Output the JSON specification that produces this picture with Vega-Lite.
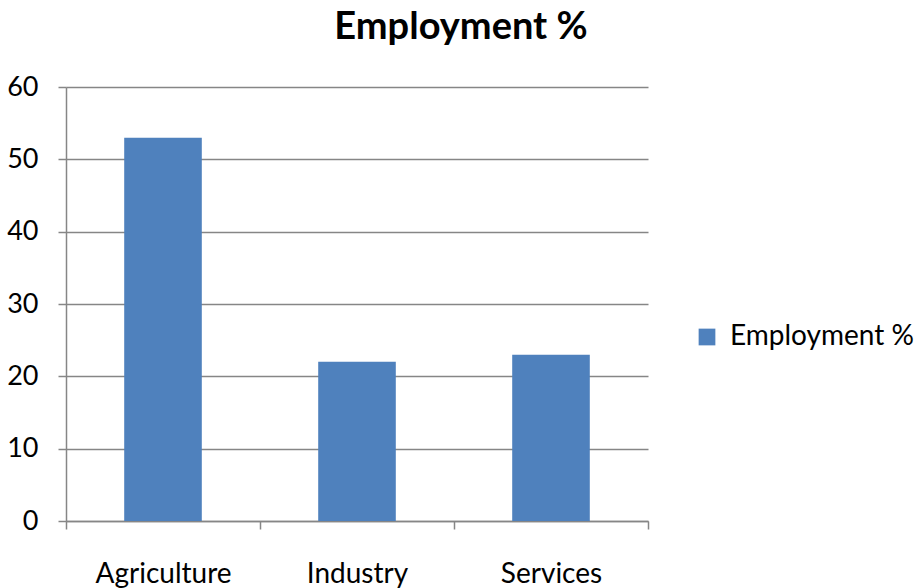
{
  "$schema": "https://vega.github.io/schema/vega-lite/v6.json",
  "width": 582,
  "height": 434,
  "autosize": "none",
  "padding": {"left": 66, "top": 87, "right": 267, "bottom": 67},
  "background": "white",
  "title": {
    "text": "Employment %",
    "font": "Lato",
    "fontSize": 38,
    "fontWeight": "bold",
    "color": "#000000",
    "anchor": "middle",
    "dx": 104,
    "offset": 26
  },
  "data": {
    "values": [
      {"sector": "Agriculture", "value": 53},
      {"sector": "Industry", "value": 22},
      {"sector": "Services", "value": 23}
    ]
  },
  "config": {
    "view": {"stroke": null},
    "axis": {"labelFont": "Lato", "labelFontSize": 28, "labelColor": "#000000"}
  },
  "mark": {"type": "bar", "width": {"band": 0.4}},
  "encoding": {
    "x": {
      "field": "sector",
      "type": "nominal",
      "sort": null,
      "scale": {"paddingInner": 0, "paddingOuter": 0},
      "axis": {
        "title": null,
        "labelAngle": 0,
        "tickBand": "extent",
        "tickSize": 8,
        "tickColor": "#868686",
        "tickWidth": 1.5,
        "domainColor": "#868686",
        "domainWidth": 1.5,
        "labelPadding": 31,
        "grid": false
      }
    },
    "y": {
      "field": "value",
      "type": "quantitative",
      "scale": {"domain": [0, 60], "nice": false},
      "axis": {
        "title": null,
        "values": [0, 10, 20, 30, 40, 50, 60],
        "labelFontSize": 27,
        "tickSize": 8,
        "tickColor": "#868686",
        "tickWidth": 1.5,
        "domainColor": "#868686",
        "domainWidth": 1.5,
        "gridColor": "#868686",
        "gridWidth": 1.5,
        "labelPadding": 20
      }
    },
    "color": {
      "datum": "Employment %",
      "scale": {"range": ["#4F81BD"]},
      "legend": {
        "title": null,
        "orient": "none",
        "legendX": 627,
        "legendY": 236,
        "symbolType": "square",
        "symbolSize": 280,
        "symbolStrokeWidth": 0,
        "labelFont": "Lato",
        "labelFontSize": 28,
        "labelLimit": 400,
        "labelColor": "#000000",
        "labelOffset": 9
      }
    }
  }
}
